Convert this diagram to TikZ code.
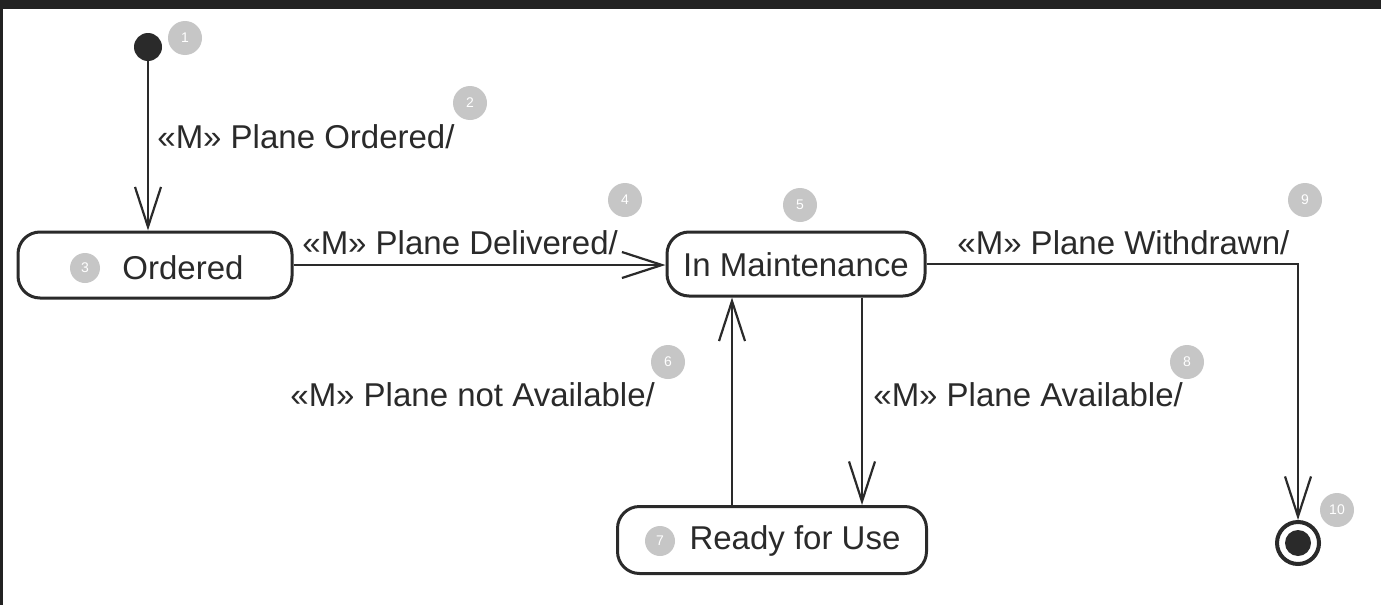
\documentclass[tikz,border=0pt]{standalone}
\usepackage{fontspec}
\setmainfont{Liberation Sans}
\usetikzlibrary{arrows.meta}
\definecolor{frame}{HTML}{222222}
\definecolor{ink}{HTML}{2A2A2A}
\definecolor{badgegray}{HTML}{C6C6C6}
\tikzset{
  state/.style={draw=ink, line width=1.5pt, rounded corners=11pt, inner sep=0pt},
  statetext/.style={font=\fontsize{16.5}{19}\selectfont, text=ink, inner sep=0pt},
  trlabel/.style={font=\fontsize{16.5}{19}\selectfont, text=ink, inner sep=0pt, anchor=west},
  trans/.style={draw=ink, line width=1.3pt,
    -{Straight Barb[length=20pt, width=13pt, line width=1.1pt]}},
  badge/.style={circle, fill=badgegray, text=white, inner sep=0pt,
    minimum size=17pt, font=\fontsize{7}{8}\selectfont},
  smallbadge/.style={badge, minimum size=15pt},
}
\begin{document}
\begin{tikzpicture}[x=0.5pt, y=-0.5pt]
  % page and dark frame edges
  \useasboundingbox (0,0) rectangle (1381,605);
  \fill[white] (0,0) rectangle (1381,605);
  \fill[frame] (0,0) rectangle (1381,9);
  \fill[frame] (0,0) rectangle (3,605);

  % pseudo states
  \node[circle, fill=ink, minimum size=14pt, inner sep=0pt] (init) at (148,47) {};
  \node[circle, draw=ink, line width=2pt, minimum size=21pt, inner sep=0pt] (final) at (1298,543) {};
  \node[circle, fill=ink, minimum size=13pt, inner sep=0pt] (finaldot) at (final.center) {};

  % states
  \node[state, minimum width=137pt, minimum height=33pt] (ordered) at (155,265) {};
  \node[statetext] (orderedT) at (183,268) {Ordered};
  \node[state, minimum width=129pt, minimum height=32pt] (maint) at (796,264) {};
  \node[statetext] (maintT) at (796,265) {In Maintenance};
  \node[state, minimum width=154.5pt, minimum height=33.5pt] (ready) at (772,540) {};
  \node[statetext] (readyT) at (795,541) {Ready for Use};

  % helper coordinates for the vertical transitions
  \coordinate (upx) at (732,0);
  \coordinate (downx) at (862,0);

  % transitions
  \draw[trans] (init) -- (ordered.north -| init);
  \draw[trans] (ordered.east) -- (ordered.east -| maint.west);
  \draw[trans] (maint.east) -| (final.north);
  \draw[trans] (ready.north -| upx) -- (maint.south -| upx);
  \draw[trans] (maint.south -| downx) -- (ready.north -| downx);

  % transition labels
  \node[trlabel] (lOrdered) at (157,137) {«M» Plane Ordered/};
  \node[trlabel] (lDelivered) at (302,243) {«M» Plane Delivered/};
  \node[trlabel] (lWithdrawn) at (957,243) {«M» Plane Withdrawn/};
  \node[trlabel] (lNotAvail) at (290,395) {«M» Plane not Available/};
  \node[trlabel] (lAvail) at (873,395) {«M» Plane Available/};

  % numbered markers
  \node[badge] (b1) at (185,38) {1};
  \node[badge] (b2) at (470,103) {2};
  \node[smallbadge] (b3) at (85,268) {3};
  \node[badge] (b4) at (625,200) {4};
  \node[badge] (b5) at (800,205) {5};
  \node[badge] (b6) at (668,362) {6};
  \node[smallbadge] (b7) at (660,541) {7};
  \node[badge] (b8) at (1187,362) {8};
  \node[badge] (b9) at (1305,200) {9};
  \node[badge] (b10) at (1337,510) {10};
\end{tikzpicture}
\end{document}
